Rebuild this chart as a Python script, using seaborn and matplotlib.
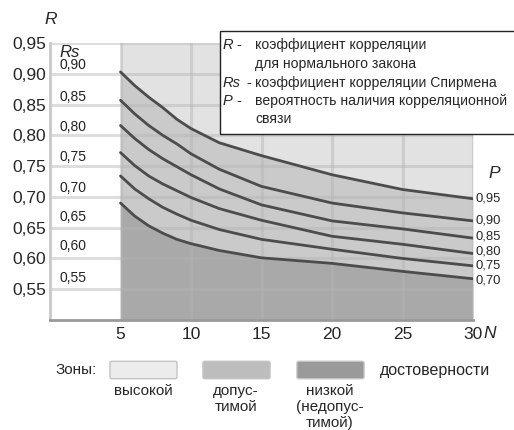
import seaborn as sns
import matplotlib.pyplot as plt
import matplotlib.patches as mpatches
import pandas as pd

# values
n_values = [5, 6, 7, 8, 9, 10, 12, 15, 20, 25, 30]
r_p95 = [0.903, 0.881, 0.862, 0.845, 0.826, 0.811, 0.788, 0.767, 0.736, 0.712, 0.697]
r_p90 = [0.857, 0.835, 0.816, 0.800, 0.786, 0.770, 0.745, 0.717, 0.690, 0.674, 0.661]
r_p85 = [0.816, 0.795, 0.777, 0.762, 0.749, 0.736, 0.713, 0.687, 0.661, 0.648, 0.633]
r_p80 = [0.772, 0.751, 0.734, 0.721, 0.710, 0.699, 0.681, 0.662, 0.636, 0.623, 0.608]
r_p75 = [0.734, 0.713, 0.697, 0.683, 0.672, 0.662, 0.647, 0.631, 0.615, 0.600, 0.588]
r_p70 = [0.690, 0.669, 0.653, 0.641, 0.631, 0.624, 0.613, 0.601, 0.592, 0.579, 0.567]
p_labels = ["0,95", "0,90", "0,85", "0,80", "0,75", "0,70"]

r_ticks = [0.55, 0.60, 0.65, 0.70, 0.75, 0.80, 0.85, 0.90, 0.95]
r_tick_labels = ["0,55", "0,60", "0,65", "0,70", "0,75", "0,80", "0,85", "0,90", "0,95"]
n_ticks = [5, 10, 15, 20, 25, 30]
rs_labels = ["0,90", "0,85", "0,80", "0,75", "0,70", "0,65", "0,60", "0,55"]
rs_pos = [0.914, 0.862, 0.813, 0.764, 0.715, 0.668, 0.620, 0.568]

zone_names = ["высокой", "допус-\nтимой", "низкой\n(недопус-\nтимой)"]
zone_colors = ["#e2e2e2", "#cacaca", "#a9a9a9"]
patch_colors = ["#ececec", "#bdbdbd", "#9a9a9a"]

series = [r_p95, r_p90, r_p85, r_p80, r_p75, r_p70]
rows = []
for lab, vals in zip(p_labels, series):
    for n, r in zip(n_values, vals):
        rows.append({"N": n, "R": r, "P": lab})
df = pd.DataFrame(rows)

sns.set_theme(style="white")
plt.rcParams["font.family"] = ["Liberation Sans", "DejaVu Sans"]

W, H = 514, 430
fig = plt.figure(figsize=(W / 100, H / 100), dpi=100)
ax = fig.add_axes([50 / W, 1 - 320 / H, (473 - 50) / W, (320 - 43) / H])


def px(x, y):
    return x / W, 1 - y / H


# zones
ax.fill_between(n_values, r_p95, 0.95, color=zone_colors[0], lw=0, zorder=1)
ax.fill_between(n_values, r_p70, r_p95, color=zone_colors[1], lw=0, zorder=1)
ax.fill_between(n_values, 0.5, r_p70, color=zone_colors[2], lw=0, zorder=1)

# grid
for r in r_ticks:
    ax.axhline(r, color="#b4b4b4", alpha=0.45, lw=2.2, zorder=2)
for n in n_ticks:
    ax.axvline(n, color="#b4b4b4", alpha=0.45, lw=2.2, zorder=2)

sns.lineplot(data=df, x="N", y="R", hue="P", palette=["#4c4c4c"] * 6,
             linewidth=2, legend=False, ax=ax, zorder=3)

ax.set_xlim(0, 30)
ax.set_ylim(0.5, 0.95)
ax.set_xticks(n_ticks)
ax.set_xticklabels([str(n) for n in n_ticks], fontsize=12.5)
ax.set_yticks(r_ticks)
ax.set_yticklabels(r_tick_labels, fontsize=12.5)
ax.tick_params(axis="both", length=0, pad=3)
ax.tick_params(axis="x", pad=5)
ax.set_xlabel("")
ax.set_ylabel("")
for s in ["top", "right"]:
    ax.spines[s].set_visible(False)
ax.spines["left"].set_color("#c8c8c8")
ax.spines["left"].set_linewidth(2)
ax.spines["bottom"].set_color("#9a9a9a")
ax.spines["bottom"].set_linewidth(2)

# Rs scale labels
for lab, pos in zip(rs_labels, rs_pos):
    ax.text(0.7, pos, lab, fontsize=10, va="center", ha="left", color="#222222", zorder=4)
ax.text(0.7, 0.935, "Rs", fontsize=12, style="italic", va="center", ha="left", zorder=4)

# P labels at curve ends, nudged apart a little where they crowd
label_nudge = [0, 0, 0.002, 0.003, 0, -0.003]
for lab, vals, dy in zip(p_labels, series, label_nudge):
    ax.text(30.15, vals[-1] + dy, lab, fontsize=9.4, va="center", ha="left", clip_on=False)

fig.text(*px(51, 20), "R", fontsize=12.5, style="italic", ha="center", va="center")
fig.text(*px(494, 173), "P", fontsize=12.5, style="italic", ha="center", va="center")
fig.text(*px(490, 333), "N", fontsize=12.5, style="italic", ha="center", va="center")

# explanation box
box = mpatches.Rectangle(px(220, 134), (518 - 220) / W, (134 - 31) / H,
                         transform=fig.transFigure, facecolor="white",
                         edgecolor="#222222", lw=1, zorder=5)
fig.add_artist(box)
keys = ["R", "", "Rs", "P", ""]
dash_x = [236, 0, 246, 236, 0]
texts = ["коэффициент корреляции", "для нормального закона",
         "коэффициент корреляции Спирмена",
         "вероятность наличия корреляционной", "связи"]
line_y = [45, 64, 83, 101, 119]
for k, dx, t, y in zip(keys, dash_x, texts, line_y):
    if k:
        fig.text(*px(223, y), k, fontsize=10.5, style="italic", va="center", ha="left", zorder=6)
        fig.text(*px(dx, y), "-", fontsize=10.5, va="center", ha="left", zorder=6)
    fig.text(*px(255, y), t, fontsize=10.1, va="center", ha="left", zorder=6)

# zones legend
fig.text(*px(55, 370), "Зоны:", fontsize=11, va="center", ha="left")
patch_x = [110, 203, 297]
for x0, c, name in zip(patch_x, patch_colors, zone_names):
    p = mpatches.FancyBboxPatch(px(x0 + 2, 377), 63 / W, 14 / H,
                                boxstyle="round,pad=0.004",
                                transform=fig.transFigure,
                                facecolor=c, edgecolor="#c4c4c4", lw=1)
    fig.add_artist(p)
    fig.text(*px(x0 + 33, 384), name, fontsize=11, va="top", ha="center",
             linespacing=1.2)
fig.text(*px(380, 370), "достоверности", fontsize=11.5, va="center", ha="left")

fig.savefig("out.png", dpi=100)
